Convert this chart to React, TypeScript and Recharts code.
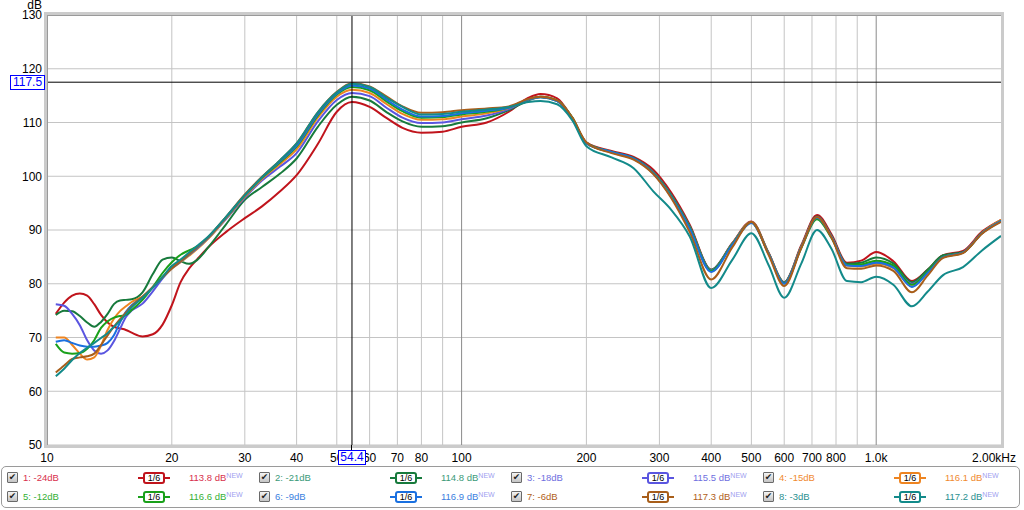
import React from 'react';
import { LineChart, Line, XAxis, YAxis, CartesianGrid, ReferenceLine } from 'recharts';

const freqs = [10.5, 11, 11.5, 12, 12.5, 13, 13.5, 14, 14.5, 15, 15.5, 16, 17, 18, 19, 20, 21, 22, 23, 24.5, 27, 30, 33, 36.5, 40, 45, 50, 54.4, 60, 66, 72, 80, 90, 100, 115, 130, 145, 155, 170, 185, 200, 230, 260, 290, 320, 355, 400, 450, 500, 550, 600, 660, 720, 780, 850, 920, 1000, 1100, 1220, 1330, 1450, 1620, 1800, 2000];

const s1 = [74.4, 76.5, 77.8, 78.2, 77.8, 76.2, 74.2, 72.8, 72.0, 71.7, 71.4, 70.9, 70.2, 70.6, 72.4, 76.0, 80.3, 82.8, 84.5, 86.8, 89.6, 92.2, 94.4, 97.2, 100.2, 106.0, 112.0, 113.8, 112.9, 110.8, 109.0, 108.1, 108.3, 109.2, 110.0, 112.0, 114.6, 115.3, 114.5, 110.8, 106.3,
  104.7, 103.6, 101.2, 97.0, 91.0, 82.6, 87.6, 91.6, 85.8, 80.3, 87.2, 92.8, 89.2, 83.9, 84.3, 85.9, 84.2, 80.5, 82.6, 85.3, 86.1, 89.7, 91.9];
const s2 = [74.2, 75.0, 74.9, 74.0, 72.8, 72.0, 72.9, 74.4, 76.2, 76.9, 77.0, 77.1, 78.4, 81.8, 84.5, 84.9, 84.2, 83.7, 84.4, 86.8, 91.0, 95.6, 98.0, 100.5, 103.3, 109.2, 113.3, 114.8, 114.1, 111.9, 110.2, 109.2, 109.3, 110.0, 110.8, 112.3, 114.1, 114.7, 114.0, 110.7, 106.1,
  104.5, 103.4, 100.8, 96.6, 90.7, 82.6, 87.5, 91.4, 85.7, 80.3, 87.0, 92.5, 88.9, 83.7, 83.9, 84.9, 83.8, 80.3, 82.6, 85.3, 85.9, 89.5, 91.8];
const s3 = [76.2, 75.9, 74.4, 72.3, 69.5, 67.6, 67.0, 67.6, 69.3, 71.6, 73.8, 75.0, 76.3, 78.6, 81.0, 83.0, 84.2, 85.4, 86.6, 88.5, 92.0, 96.0, 99.2, 101.8, 104.3, 110.2, 114.2, 115.5, 114.9, 112.7, 110.9, 109.9, 110.0, 110.6, 111.3, 112.5, 114.2, 114.8, 114.1, 110.8, 106.2,
  104.5, 103.3, 100.7, 96.5, 90.6, 82.5, 87.5, 91.5, 85.7, 80.2, 86.9, 92.4, 88.8, 83.5, 83.5, 84.0, 83.2, 80.0, 82.3, 85.0, 85.8, 89.4, 91.6];
const s4 = [70.0, 70.0, 68.6, 67.0, 65.9, 66.3, 68.5, 71.4, 73.5, 74.9, 75.8, 76.6, 77.6, 79.4, 81.2, 82.8, 84.0, 85.2, 86.4, 88.4, 92.1, 96.2, 99.5, 102.3, 105.0, 110.9, 114.8, 116.1, 115.5, 113.4, 111.6, 110.5, 110.6, 111.1, 111.7, 112.7, 114.3, 114.8, 114.1, 110.9, 106.2,
  104.4, 103.2, 100.6, 96.3, 90.4, 82.3, 87.4, 91.5, 85.7, 80.1, 86.9, 92.3, 88.7, 83.4, 83.2, 83.7, 82.9, 79.5, 82.0, 84.9, 85.8, 89.5, 91.9];
const s5 = [68.8, 67.2, 67.0, 67.1, 67.9, 69.5, 71.8, 73.0, 73.7, 74.0, 74.2, 75.1, 77.0, 79.4, 82.0, 84.0, 85.4, 86.2, 86.9, 88.7, 92.3, 96.4, 99.7, 102.6, 105.5, 111.3, 115.2, 116.6, 116.0, 113.9, 112.1, 110.9, 111.0, 111.5, 112.0, 112.8, 114.3, 114.8, 114.1, 110.9, 106.2,
  104.5, 103.3, 100.6, 96.4, 90.5, 82.4, 87.4, 91.4, 85.6, 80.1, 86.7, 92.0, 88.5, 83.5, 83.6, 84.3, 83.4, 79.8, 82.3, 85.0, 85.8, 89.4, 91.7];
const s6 = [69.2, 69.5, 69.0, 68.5, 68.3, 68.3, 68.5, 69.0, 70.4, 72.8, 74.8, 76.0, 77.5, 79.3, 81.1, 82.9, 84.1, 85.4, 86.6, 88.6, 92.3, 96.5, 99.8, 102.8, 105.7, 111.5, 115.4, 116.9, 116.3, 114.2, 112.4, 111.1, 111.2, 111.7, 112.2, 112.8, 114.3, 114.7, 114.0, 110.8, 106.1,
  104.5, 103.3, 100.5, 96.2, 90.3, 82.2, 87.3, 91.3, 85.6, 80.0, 86.8, 92.3, 88.7, 83.4, 83.3, 83.9, 83.0, 79.4, 82.0, 84.9, 85.8, 89.4, 91.7];
const s7 = [63.5, 64.8, 66.0, 66.3, 66.5, 67.0, 68.6, 70.4, 72.0, 73.4, 74.6, 75.8, 77.6, 79.4, 81.2, 82.9, 84.2, 85.5, 86.8, 88.7, 92.4, 96.6, 99.9, 103.0, 106.1, 111.9, 115.7, 117.3, 116.7, 114.8, 113.0, 111.8, 111.9, 112.3, 112.6, 113.0, 114.4, 114.8, 114.1, 110.9, 106.3,
  104.3, 103.1, 100.4, 96.0, 89.6, 80.8, 86.8, 91.5, 85.4, 79.6, 86.7, 92.4, 88.6, 82.9, 82.8, 83.4, 82.4, 78.4, 81.5, 84.8, 85.7, 89.3, 91.5];
const s8 = [62.8, 64.2, 65.8, 67.1, 68.1, 69.0, 69.9, 70.8, 72.0, 73.1, 74.3, 75.6, 77.4, 79.3, 81.3, 83.3, 84.5, 85.8, 87.0, 88.8, 92.4, 96.5, 99.8, 103.0, 106.1, 111.9, 115.6, 117.2, 116.6, 114.6, 112.9, 111.5, 111.6, 112.0, 112.4, 112.9, 113.8, 114.0, 113.4, 110.4, 105.6,
  103.5, 101.5, 97.2, 93.8, 88.8, 79.2, 84.5, 89.4, 83.5, 77.4, 83.8, 90.0, 86.5, 80.5, 80.3, 81.3, 79.8, 75.8, 78.5, 81.6, 83.1, 86.2, 88.9];

const seriesKeys = ['s1', 's2', 's3', 's4', 's5', 's6', 's7', 's8'];
const seriesValues = [s1, s2, s3, s4, s5, s6, s7, s8];
const seriesNames = ['1: -24dB', '2: -21dB', '3: -18dB', '4: -15dB', '5: -12dB', '6: -9dB', '7: -6dB', '8: -3dB'];
const seriesPeaks = ['113.8 dB', '114.8 dB', '115.5 dB', '116.1 dB', '116.6 dB', '116.9 dB', '117.3 dB', '117.2 dB'];
const lineColors = ['#c0141c', '#177a3c', '#5a55e0', '#ee8420', '#1aa01a', '#1a70e0', '#a85e1a', '#138a8a'];
const textColors = ['#d8304c', '#3a9a78', '#7070e0', '#f08a30', '#34b034', '#3a80e0', '#b06020', '#2a9090'];

const xTicks = [10, 20, 30, 40, 50, 60, 70, 80, 100, 200, 300, 400, 500, 600, 700, 800, 1000, 2000];
const yTicks = [50, 60, 70, 80, 90, 100, 110, 120, 130];
const lightGridX = [20, 30, 40, 50, 60, 70, 80, 90, 200, 300, 400, 500, 600, 700, 800, 900];
const darkGridX = [100, 1000];
const cursorFreq = 54.4;
const cursorLevel = 117.5;

const data = freqs.map((f, i) => {
  const row: any = { f };
  seriesKeys.forEach((k, j) => { row[k] = seriesValues[j][i]; });
  return row;
});

const FONT = '"Liberation Sans", Arial, sans-serif';

const xLabel = (v: number) => (v === 1000 ? '1.0k' : v === 2000 ? '2.00kHz' : String(v));

const XTick = (props: any) => {
  const { x, y, payload } = props;
  const v = payload.value;
  const last = v === 2000;
  return (
    <text x={last ? x + 15 : x} y={y} dy="0.71em" textAnchor={last ? 'end' : 'middle'} fontSize={12} fill="#000" fontFamily={FONT}>
      {xLabel(v)}
    </text>
  );
};

const Checkbox = ({ x, y }: { x: number; y: number }) => (
  <div style={{ position: 'absolute', left: x, top: y, width: 9, height: 9, border: '1px solid #6a6a6a', borderRadius: 1, background: 'linear-gradient(#f4f4f4, #c4c4c4)', fontSize: 9, lineHeight: '9px', textAlign: 'center', color: '#222', fontFamily: '"DejaVu Sans", sans-serif' }}>✔</div>
);

const Badge = ({ x, y, color }: { x: number; y: number; color: string }) => (
  <div style={{ position: 'absolute', left: x, top: y, width: 32, height: 11 }}>
    <div style={{ position: 'absolute', left: 0, top: 5, width: 32, height: 2, background: color }} />
    <div style={{ position: 'absolute', left: 5, top: 0, width: 18, height: 8, border: `2px solid ${color}`, borderRadius: 3, background: '#fff', fontSize: 9, lineHeight: '8px', textAlign: 'center', color: '#000', fontFamily: FONT }}>1/6</div>
  </div>
);

const colX = [7, 259, 511, 763];
const rowY = [472, 491];

const LegendEntry = ({ idx }: { idx: number }) => {
  const col = idx % 4;
  const row = Math.floor(idx / 4);
  const bx = colX[col];
  const by = rowY[row];
  const tc = textColors[idx];
  return (
    <>
      <Checkbox x={bx} y={by} />
      <div style={{ position: 'absolute', left: bx + 16, top: by, fontSize: 9.5, lineHeight: '11px', color: tc, fontFamily: FONT, whiteSpace: 'nowrap' }}>{seriesNames[idx]}</div>
      <Badge x={bx + 131} y={by} color={lineColors[idx]} />
      <div style={{ position: 'absolute', left: bx + 182, top: by, fontSize: 9.5, lineHeight: '11px', color: tc, fontFamily: FONT, whiteSpace: 'nowrap' }}>
        {seriesPeaks[idx]}
        <span style={{ fontSize: 7, color: '#a0a0f0', verticalAlign: 'top', position: 'relative', top: -2 }}>NEW</span>
      </div>
    </>
  );
};

export default function App() {
  return (
    <div style={{ position: 'absolute', left: 0, top: 0, width: 1024, height: 510, background: '#fff', overflow: 'hidden', fontFamily: FONT }}>
      <LineChart width={1024} height={510} data={data} margin={{ top: 15, right: 23, bottom: 45, left: 0 }}>
        <CartesianGrid stroke="#c4c4c4" strokeWidth={1} vertical={false} />
        {lightGridX.map((f) => (
          <ReferenceLine key={'g' + f} x={f} stroke="#c4c4c4" strokeWidth={1} />
        ))}
        {darkGridX.map((f) => (
          <ReferenceLine key={'d' + f} x={f} stroke="#8a8a8a" strokeWidth={1} />
        ))}
        <XAxis dataKey="f" type="number" scale="log" domain={[10, 2000]} allowDataOverflow ticks={xTicks} interval={0} tick={<XTick />} tickLine={false} axisLine={false} tickSize={0} tickMargin={8} height={20} />
        <YAxis type="number" domain={[50, 130]} ticks={yTicks} interval={0} allowDataOverflow tickLine={false} axisLine={false} tickSize={0} tickMargin={5} width={47} tick={{ fontSize: 12, fill: '#000', fontFamily: FONT }} />
        {seriesKeys.map((k, i) => (
          <Line key={k} dataKey={k} type="monotone" stroke={lineColors[i]} strokeWidth={2} dot={false} activeDot={false} isAnimationActive={false} />
        ))}
        <ReferenceLine x={cursorFreq} stroke="#000" strokeWidth={1} />
        <ReferenceLine y={cursorLevel} stroke="#000" strokeWidth={1} />
      </LineChart>

      <div style={{ position: 'absolute', left: 44, top: 12, width: 954, height: 430, border: '3px solid #cbcbcb', boxShadow: 'inset 1px 1px 0 #9a9a9a', pointerEvents: 'none' }} />

      <div style={{ position: 'absolute', left: 20, top: 0, width: 22, height: 10, textAlign: 'right', fontSize: 12, lineHeight: '10px', color: '#000' }}>dB</div>

      <div style={{ position: 'absolute', left: 10, top: 75, width: 33, height: 13, border: '1px solid #0000ff', background: '#fff', color: '#0000ff', fontSize: 12, lineHeight: '13px', textAlign: 'center' }}>117.5</div>
      <div style={{ position: 'absolute', left: 351, top: 445, width: 1, height: 5, background: '#000' }} />
      <div style={{ position: 'absolute', left: 338, top: 450, width: 26, height: 13, border: '1px solid #0000ff', background: '#fff', color: '#0000ff', fontSize: 12, lineHeight: '13px', textAlign: 'center' }}>54.4</div>

      <div style={{ position: 'absolute', left: 1, top: 466, width: 1017, height: 40, border: '1px solid #9a9a9a', borderRadius: 5 }} />
      {seriesKeys.map((k, i) => (
        <LegendEntry key={'l' + k} idx={i} />
      ))}
    </div>
  );
}
